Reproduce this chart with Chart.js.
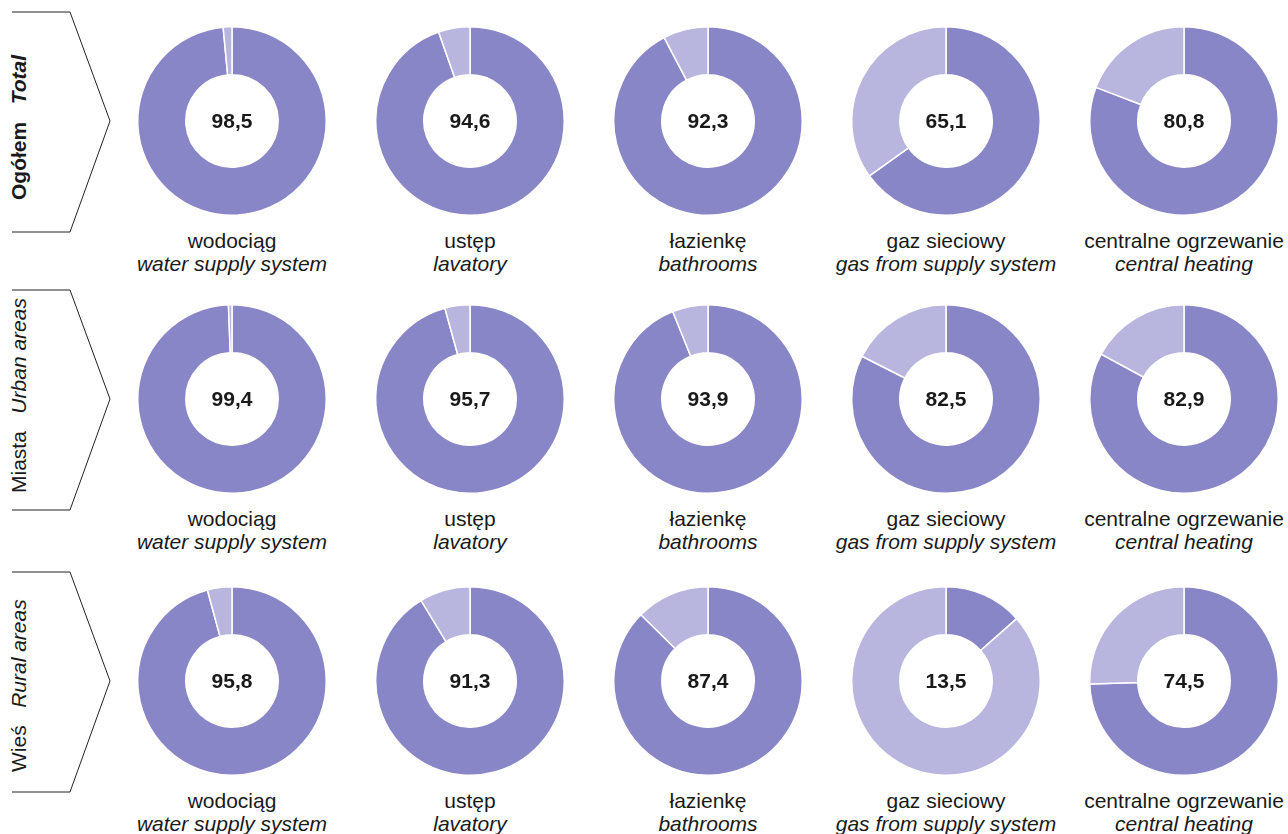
<!DOCTYPE html>
<html>
<head>
<meta charset="utf-8">
<script src="https://cdn.jsdelivr.net/npm/chart.js@4"></script>
<style>
  html, body { margin: 0; padding: 0; background: #fff; }
  body { width: 1288px; height: 834px; position: relative; overflow: hidden; font-family: "Liberation Sans", Arial, sans-serif; color: #1a1a1a; }
  .donut { position: absolute; width: 190px; height: 190px; }
  .label { position: absolute; width: 238px; text-align: center; font-size: 21px; line-height: 23px; }
  .label i { display: block; }
  .rowname { position: absolute; font-size: 21px; white-space: nowrap; transform: rotate(-90deg); transform-origin: left top; }
  svg { position: absolute; left: 0; top: 0; }
</style>
</head>
<body>
<svg width="130" height="834" id="brackets"></svg>
<script>
const categoriesPl = ['wodociąg', 'ustęp', 'łazienkę', 'gaz sieciowy', 'centralne ogrzewanie'];
const categoriesEn = ['water supply system', 'lavatory', 'bathrooms', 'gas from supply system', 'central heating'];
const rowsPl = ['Ogółem', 'Miasta', 'Wieś'];
const rowsEn = ['Total', 'Urban areas', 'Rural areas'];
const totalValues = [98.5, 94.6, 92.3, 65.1, 80.8];
const urbanValues = [99.4, 95.7, 93.9, 82.5, 82.9];
const ruralValues = [95.8, 91.3, 87.4, 13.5, 74.5];

const allValues = [totalValues, urbanValues, ruralValues];
const colX = [232, 470, 708, 946, 1184];
const rowY = [121, 399, 681];
const rowNameShift = [6, -4, 4];
const darkColor = '#8886c6';
const lightColor = '#b8b5de';

const centerText = {
    id: 'centerText',
    afterDraw(chart, args, opts) {
        const ctx = chart.ctx;
        const meta = chart.getDatasetMeta(0).data[0];
        ctx.save();
        ctx.font = 'bold 21px "Liberation Sans", Arial, sans-serif';
        ctx.fillStyle = '#1a1a1a';
        ctx.textAlign = 'center';
        ctx.textBaseline = 'middle';
        ctx.fillText(opts.text, meta.x, meta.y + 1);
        ctx.restore();
    }
};

// brackets with row names
const svg = document.getElementById('brackets');
rowY.forEach((cy, r) => {
    const top = cy - 109, bot = cy + 111;
    const p = document.createElementNS('http://www.w3.org/2000/svg', 'polyline');
    p.setAttribute('points', `12,${top} 70,${top} 110,${cy} 70,${bot} 12,${bot}`);
    p.setAttribute('fill', 'none');
    p.setAttribute('stroke', '#222');
    p.setAttribute('stroke-width', '1');
    svg.appendChild(p);

    const t = document.createElement('div');
    t.className = 'rowname';
    const plPart = r === 0 ? `<b>${rowsPl[r]}</b>` : rowsPl[r];
    const enPart = r === 0 ? `<b><i>${rowsEn[r]}</i></b>` : `<i>${rowsEn[r]}</i>`;
    t.innerHTML = plPart + '&nbsp;&nbsp;&nbsp;' + enPart;
    document.body.appendChild(t);
    const w = t.offsetWidth;
    t.style.left = '7px';
    t.style.top = (cy + rowNameShift[r] + w / 2) + 'px';
});

allValues.forEach((values, r) => {
    values.forEach((v, c) => {
        const box = document.createElement('div');
        box.className = 'donut';
        box.style.left = (colX[c] - 95) + 'px';
        box.style.top = (rowY[r] - 95) + 'px';
        const canvas = document.createElement('canvas');
        box.appendChild(canvas);
        document.body.appendChild(box);

        new Chart(canvas, {
            type: 'doughnut',
            data: {
                labels: ['tak', 'nie'],
                datasets: [{
                    data: [v, +(100 - v).toFixed(1)],
                    backgroundColor: [darkColor, lightColor],
                    borderColor: '#ffffff',
                    borderWidth: 1.5,
                    hoverOffset: 0
                }]
            },
            options: {
                responsive: true,
                maintainAspectRatio: false,
                animation: false,
                events: [],
                cutout: '49%',
                layout: { padding: 0 },
                plugins: {
                    legend: { display: false },
                    tooltip: { enabled: false },
                    centerText: { text: v.toFixed(1).replace('.', ',') }
                }
            },
            plugins: [centerText]
        });

        const lab = document.createElement('div');
        lab.className = 'label';
        lab.style.left = (colX[c] - 119) + 'px';
        lab.style.top = (rowY[r] + 108) + 'px';
        lab.innerHTML = categoriesPl[c] + '<i>' + categoriesEn[c] + '</i>';
        document.body.appendChild(lab);
    });
});
</script>
</body>
</html>
